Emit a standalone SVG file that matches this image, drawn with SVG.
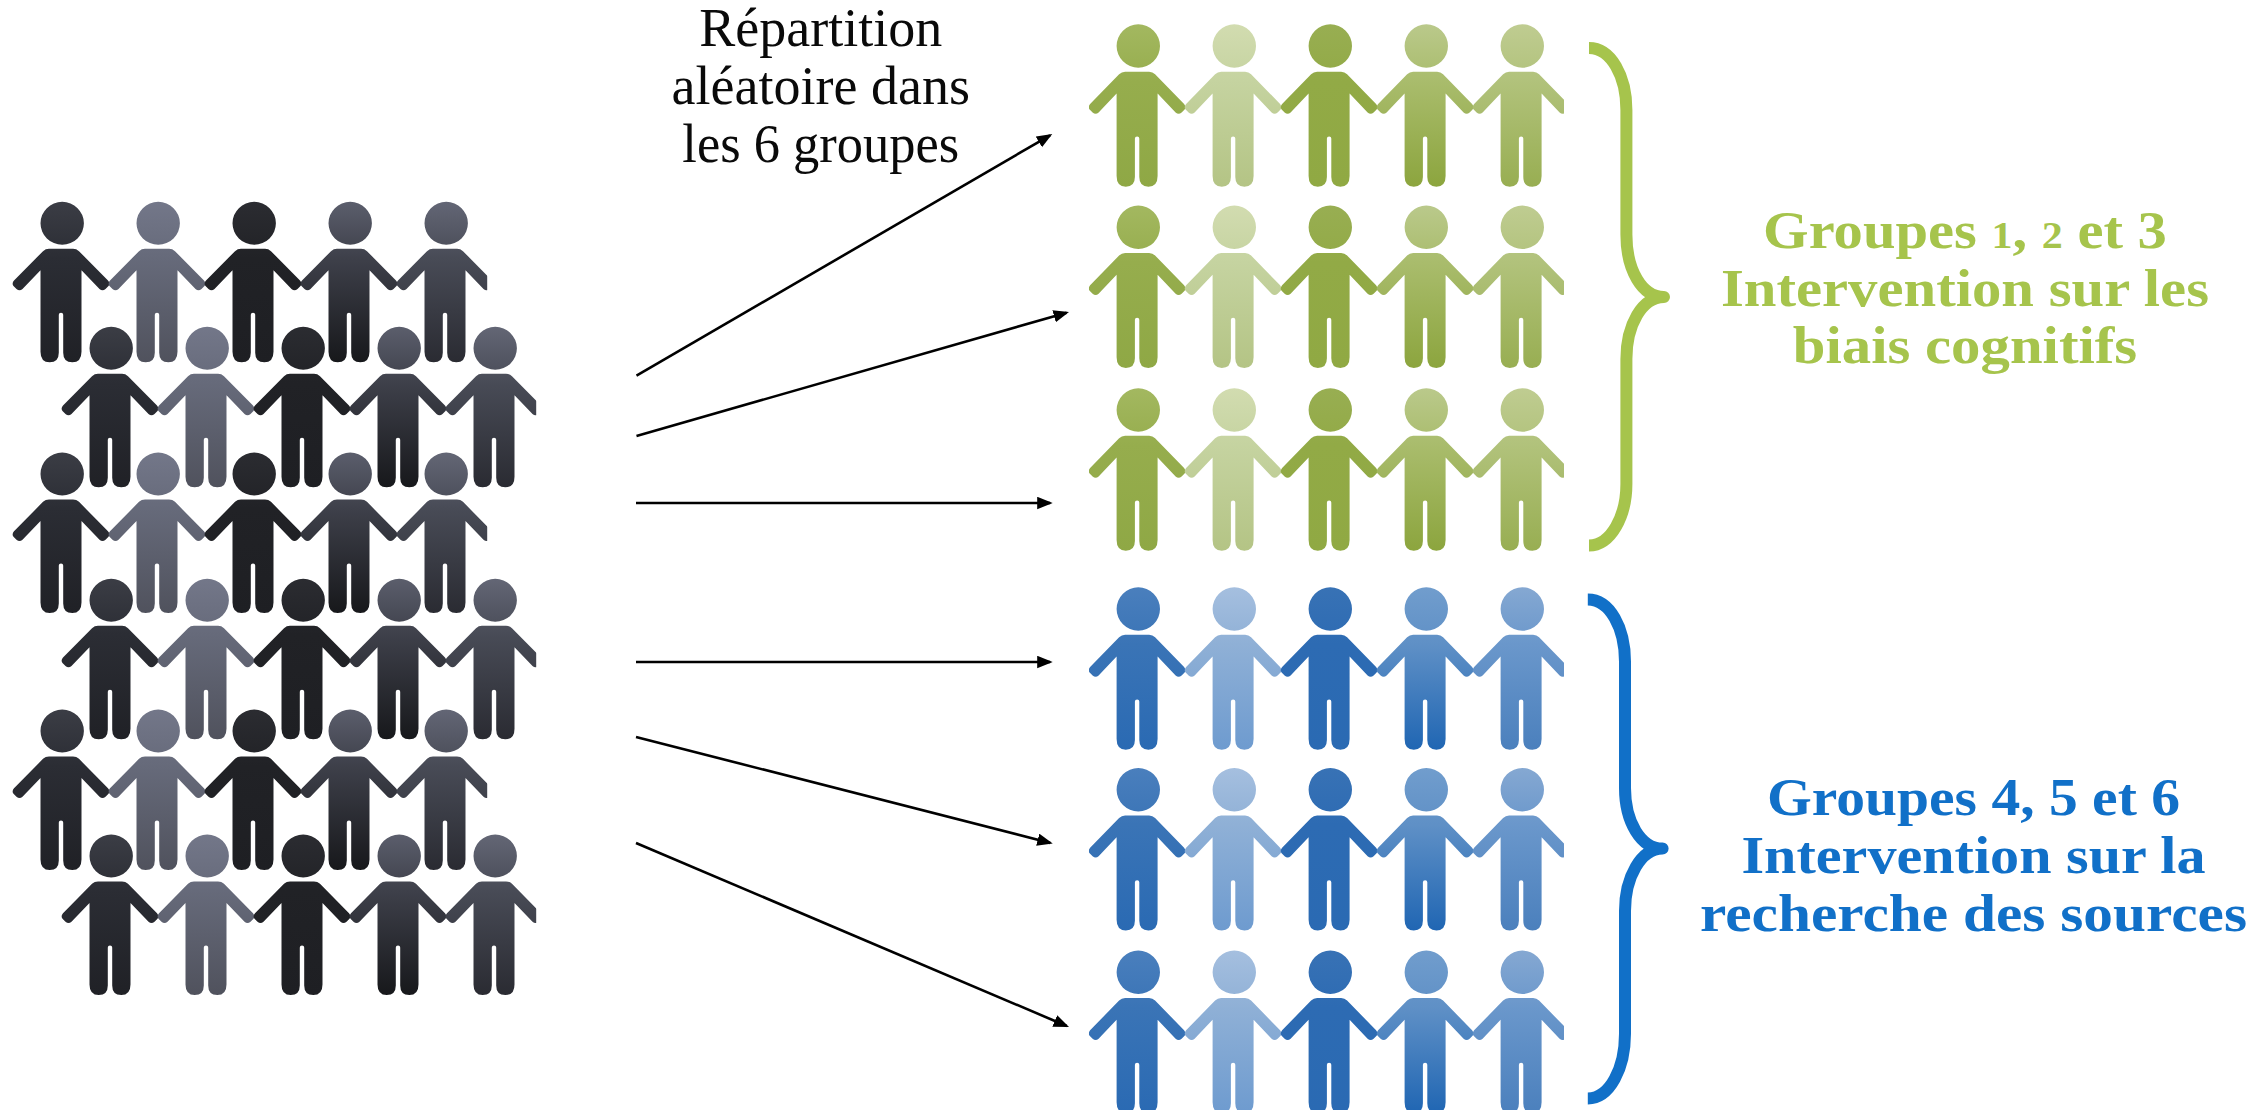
<svg xmlns="http://www.w3.org/2000/svg" width="2266" height="1110" viewBox="0 0 2266 1110">
<style>
.d1{fill:url(#d1)}.d2{fill:url(#d2)}.d3{fill:url(#d3)}.d4{fill:url(#d4)}.d5{fill:url(#d5)}
.g1{fill:url(#g1)}.g2{fill:url(#g2)}.g3{fill:url(#g3)}.g4{fill:url(#g4)}.g5{fill:url(#g5)}
.b1{fill:url(#b1)}.b2{fill:url(#b2)}.b3{fill:url(#b3)}.b4{fill:url(#b4)}.b5{fill:url(#b5)}
.arrow{stroke:#000;stroke-width:2.6;fill:none;marker-end:url(#head)}
.brace{fill:none;stroke-width:12;stroke-linejoin:round}
.lab{font-family:"Liberation Serif",serif;font-size:54px;fill:#0a0a0a;text-anchor:middle}
.side{font-family:"Liberation Serif",serif;font-weight:bold;font-size:53px;text-anchor:middle}
.green{fill:#a6c44c}.blue{fill:#1170c8}
.small{font-size:38px}
</style>
<defs>
<marker id="head" markerUnits="userSpaceOnUse" markerWidth="16" markerHeight="13" refX="13" refY="6.25" orient="auto"><path d="M0 0L15.5 6.25L0 12.5Z" fill="#000"/></marker>
<path id="p" d="M22.9 0A21.7 21.7 0 1 1 -20.5 0A21.7 21.7 0 1 1 22.9 0ZM-12 25.7H12Q15.5 25.7 18 28.2L47 58Q49.5 61 47.5 63.5L44.5 66.5Q41.5 69 38.5 66.5L20.5 47.5V130Q20.5 140.7 11.3 140.7Q2.2 140.7 2.2 131V92.5Q2.2 90.5 0 90.5Q-2.2 90.5 -2.2 92.5V131Q-2.2 140.7 -11.3 140.7Q-20.5 140.7 -20.5 130V47.5L-38.5 66.5Q-41.5 69 -44.5 66.5L-47.5 63.5Q-49.5 61 -47 58L-18 28.2Q-15.5 25.7 -12 25.7Z"/>
<linearGradient id="d1" x2="0" y2="1"><stop offset="0" stop-color="#3b3d45"/><stop offset=".35" stop-color="#2b2d34"/><stop offset="1" stop-color="#202126"/></linearGradient>
<linearGradient id="d2" x2="0" y2="1"><stop offset="0" stop-color="#737789"/><stop offset=".35" stop-color="#666a7a"/><stop offset="1" stop-color="#50525d"/></linearGradient>
<linearGradient id="d3" x2="0" y2="1"><stop offset="0" stop-color="#2b2c31"/><stop offset=".35" stop-color="#212226"/><stop offset="1" stop-color="#1e1f23"/></linearGradient>
<linearGradient id="d4" x2="0" y2="1"><stop offset="0" stop-color="#5b5e6c"/><stop offset=".35" stop-color="#3e404a"/><stop offset="1" stop-color="#17181b"/></linearGradient>
<linearGradient id="d5" x2="0" y2="1"><stop offset="0" stop-color="#636675"/><stop offset=".35" stop-color="#484b56"/><stop offset="1" stop-color="#2a2b32"/></linearGradient>
<linearGradient id="g1" x2="0" y2="1"><stop offset="0" stop-color="#a3b860"/><stop offset=".35" stop-color="#96ad4d"/><stop offset="1" stop-color="#8fa845"/></linearGradient>
<linearGradient id="g2" x2="0" y2="1"><stop offset="0" stop-color="#d2dcb0"/><stop offset=".35" stop-color="#c5d3a0"/><stop offset="1" stop-color="#b4c485"/></linearGradient>
<linearGradient id="g3" x2="0" y2="1"><stop offset="0" stop-color="#98ae52"/><stop offset=".35" stop-color="#92aa46"/><stop offset="1" stop-color="#90a943"/></linearGradient>
<linearGradient id="g4" x2="0" y2="1"><stop offset="0" stop-color="#bac98b"/><stop offset=".35" stop-color="#a9bc6c"/><stop offset="1" stop-color="#8ca53e"/></linearGradient>
<linearGradient id="g5" x2="0" y2="1"><stop offset="0" stop-color="#bfcc91"/><stop offset=".35" stop-color="#b1c27b"/><stop offset="1" stop-color="#98ae52"/></linearGradient>
<linearGradient id="b1" x2="0" y2="1"><stop offset="0" stop-color="#4a7fbd"/><stop offset=".35" stop-color="#3a74b6"/><stop offset="1" stop-color="#2a6ab3"/></linearGradient>
<linearGradient id="b2" x2="0" y2="1"><stop offset="0" stop-color="#a5bfdf"/><stop offset=".35" stop-color="#8fb0d6"/><stop offset="1" stop-color="#6e9bcf"/></linearGradient>
<linearGradient id="b3" x2="0" y2="1"><stop offset="0" stop-color="#3872b5"/><stop offset=".35" stop-color="#2d6bb3"/><stop offset="1" stop-color="#2a6ab3"/></linearGradient>
<linearGradient id="b4" x2="0" y2="1"><stop offset="0" stop-color="#719dcd"/><stop offset=".35" stop-color="#5f90c6"/><stop offset="1" stop-color="#2066b3"/></linearGradient>
<linearGradient id="b5" x2="0" y2="1"><stop offset="0" stop-color="#85a8d2"/><stop offset=".35" stop-color="#6a97cb"/><stop offset="1" stop-color="#4b80bd"/></linearGradient>
<clipPath id="cd"><rect x="-60" y="-30" width="486.2" height="180"/></clipPath>
<clipPath id="cc"><rect x="-48.2" y="-30" width="475.1" height="180"/></clipPath>
<g id="row-dark">
<use href="#p" class="d1" transform="scale(1 .988)"/>
<use href="#p" class="d2" transform="translate(96 0) scale(1 .988)"/>
<use href="#p" class="d3" transform="translate(192 0) scale(1 .988)"/>
<use href="#p" class="d4" transform="translate(288 0) scale(1 .988)"/>
<use href="#p" class="d5" transform="translate(384 0) scale(1 .988)"/>
</g>
<g id="row-green">
<use href="#p" class="g1"/><use href="#p" class="g2" x="96"/><use href="#p" class="g3" x="192"/><use href="#p" class="g4" x="288"/><use href="#p" class="g5" x="384"/>
</g>
<g id="row-blue">
<use href="#p" class="b1"/><use href="#p" class="b2" x="96"/><use href="#p" class="b3" x="192"/><use href="#p" class="b4" x="288"/><use href="#p" class="b5" x="384"/>
</g>
</defs>
<rect width="2266" height="1110" fill="#fff"/>
<g id="population">
<g id="pop-1" transform="translate(61 223.3)" clip-path="url(#cd)"><use href="#row-dark"/></g>
<g id="pop-2" transform="translate(110 348.3)" clip-path="url(#cd)"><use href="#row-dark"/></g>
<g id="pop-3" transform="translate(61 474)" clip-path="url(#cd)"><use href="#row-dark"/></g>
<g id="pop-4" transform="translate(110 600.3)" clip-path="url(#cd)"><use href="#row-dark"/></g>
<g id="pop-5" transform="translate(61 731)" clip-path="url(#cd)"><use href="#row-dark"/></g>
<g id="pop-6" transform="translate(110 856)" clip-path="url(#cd)"><use href="#row-dark"/></g>
</g>
<g id="group-1" transform="translate(1137.1 46)" clip-path="url(#cc)"><use href="#row-green"/></g>
<g id="group-2" transform="translate(1137.1 227.3)" clip-path="url(#cc)"><use href="#row-green"/></g>
<g id="group-3" transform="translate(1137.1 410)" clip-path="url(#cc)"><use href="#row-green"/></g>
<g id="group-4" transform="translate(1137.1 609)" clip-path="url(#cc)"><use href="#row-blue"/></g>
<g id="group-5" transform="translate(1137.1 789.7)" clip-path="url(#cc)"><use href="#row-blue"/></g>
<g id="group-6" transform="translate(1137.1 972.3)" clip-path="url(#cc)"><use href="#row-blue"/></g>
<g id="connectors">
<line class="arrow" x1="636.5" y1="375.7" x2="1050.1" y2="135.3"/>
<line class="arrow" x1="636.5" y1="436" x2="1066.6" y2="312.7"/>
<line class="arrow" x1="636" y1="503" x2="1050.2" y2="503"/>
<line class="arrow" x1="636" y1="662" x2="1050.2" y2="662"/>
<line class="arrow" x1="636" y1="737" x2="1050.3" y2="842.9"/>
<line class="arrow" x1="636" y1="843" x2="1066.7" y2="1026"/>
</g>
<g id="label-random">
<text class="lab" x="820.8" y="46">Répartition</text>
<text class="lab" x="820.8" y="104">aléatoire dans</text>
<text class="lab" x="820.8" y="161.7" textLength="277" lengthAdjust="spacingAndGlyphs">les 6 groupes</text>
</g>
<g id="brace-green"><path class="brace" stroke="#a6c44c" d="M1589 48C1611 48 1626.4 76 1626.4 110V234.6C1626.4 270 1642 297 1664 297C1642 297 1626.4 325 1626.4 359V484C1626.4 516 1611 545.5 1589 545.5"/></g>
<g id="brace-blue"><path class="brace" stroke="#1170c8" d="M1587.8 599.4C1610 599.4 1625 628 1625 661.7V788C1625 822 1641 848.6 1662.6 848.6C1641 848.6 1625 877 1625 911V1033.8C1625 1068 1610 1098.5 1587.8 1098.5"/></g>
<g id="label-green">
<text class="side green" x="1965" y="248" textLength="403.8" lengthAdjust="spacingAndGlyphs">Groupes <tspan class="small">1</tspan>, <tspan class="small">2</tspan> et 3</text>
<text class="side green" x="1965" y="305.6" textLength="488" lengthAdjust="spacingAndGlyphs">Intervention sur les</text>
<text class="side green" x="1965" y="362.6" textLength="344.5" lengthAdjust="spacingAndGlyphs">biais cognitifs</text>
</g>
<g id="label-blue">
<text class="side blue" x="1973.5" y="814.6" textLength="413" lengthAdjust="spacingAndGlyphs">Groupes 4, 5 et 6</text>
<text class="side blue" x="1973.5" y="872.6" textLength="464" lengthAdjust="spacingAndGlyphs">Intervention sur la</text>
<text class="side blue" x="1973.5" y="930.6" textLength="547" lengthAdjust="spacingAndGlyphs">recherche des sources</text>
</g>
</svg>
